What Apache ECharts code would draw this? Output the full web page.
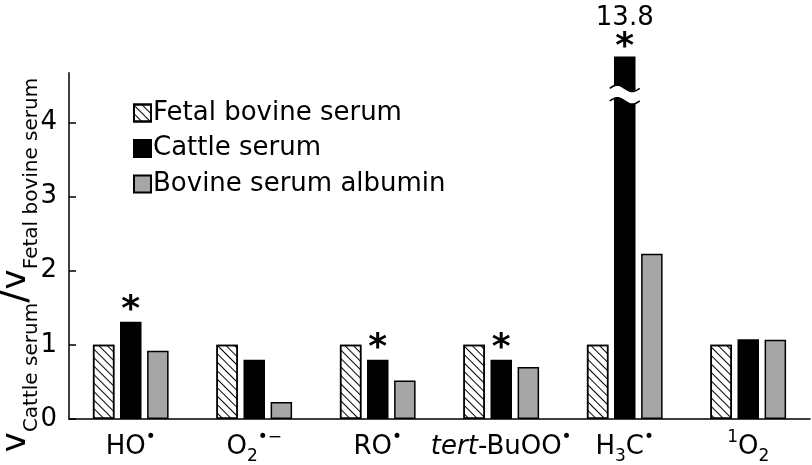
<!DOCTYPE html>
<html>
<head>
<meta charset="utf-8">
<script src="https://cdn.jsdelivr.net/npm/echarts@6/dist/echarts.min.js"></script>
<style>html,body{margin:0;padding:0;background:#fff}#c{width:812px;height:465px}</style>
</head>
<body>
<div id="c"></div>
<script>
// ---- data ----
const categories = ['HO', 'O2', 'RO', 'tert', 'H3C', '1O2'];
const categoryLabels = [
  '{n|HO}{sup|•}',
  '{n|O}{sub|2}{sup|•−}',
  '{n|RO}{sup|•}',
  '{it|tert}{n|-BuOO}{sup|•}',
  '{n|H}{sub|3}{n|C}{sup|•}',
  '{sup|1}{n|O}{sub|2}'
];
const fetalBovineSerum = [1, 1, 1, 1, 1, 1];
const cattleSerum = [1.31, 0.80, 0.80, 0.80, 13.8, 1.075];
const bovineSerumAlbumin = [0.92, 0.23, 0.52, 0.70, 2.23, 1.07];
const cattleSignificant = [true, false, true, true, true, false];
const yTicks = [0, 1, 2, 3, 4];
const yMax = 4.67;
const brokenBarTop = 4.89;        // drawn height of the broken bar
const breakValues = [4.29, 4.46]; // axis-break wave marks on the broken bar

const seriesNames = ['Fetal bovine serum', 'Cattle serum', 'Bovine serum albumin'];

const chart = echarts.init(document.getElementById('c'), null, {renderer: 'canvas'});
const FONT = 'DejaVu Sans';
const rich = {
  n: {fontSize: 26, lineHeight: 36, fontFamily: FONT, color: '#000'},
  it: {fontSize: 26, lineHeight: 36, fontFamily: FONT, fontStyle: 'italic', color: '#000'},
  sub: {fontSize: 17, lineHeight: 17, verticalAlign: 'bottom', fontFamily: FONT, color: '#000'},
  sup: {fontSize: 17, lineHeight: 17, verticalAlign: 'top', fontFamily: FONT, color: '#000'}
};

const cattleData = cattleSerum.map((v, i) => {
  const item = {value: Math.min(v, brokenBarTop)};
  if (cattleSignificant[i]) {
    const broken = v > brokenBarTop;
    item.label = {
      show: true,
      position: 'top',
      distance: broken ? -5 : -3,
      formatter: broken ? '{v|' + v + '}\n{a|*}' : '{a|*}',
      rich: {
        v: {fontSize: 26, fontFamily: FONT, color: '#000', lineHeight: 30},
        a: {fontSize: 36, fontFamily: FONT, color: '#000', lineHeight: 28, fontWeight: 'bold'}
      }
    };
  }
  return item;
});

const border = {borderColor: '#000', borderWidth: 1.5};
const BW = 21.5, GAP = '26%';

chart.setOption({
  animation: false,
  backgroundColor: '#fff',
  grid: {left: 69, right: 2, top: 421 - yMax * 74.57, bottom: 44, containLabel: false},
  legend: {
    orient: 'vertical',
    left: 133,
    top: 100,
    padding: 0,
    itemWidth: 17,
    itemHeight: 17,
    itemGap: 9.5,
    icon: 'rect',
    textStyle: {fontSize: 26, fontFamily: FONT, color: '#000', padding: [0, 0, 0, -3]},
    data: seriesNames
  },
  xAxis: {
    type: 'category',
    data: categories,
    axisLine: {lineStyle: {color: '#000', width: 1.5}},
    axisTick: {inside: true, length: 5, lineStyle: {color: '#000', width: 1.5}},
    axisLabel: {
      interval: 0,
      margin: 10,
      formatter: (val, idx) => categoryLabels[idx],
      rich: rich
    }
  },
  yAxis: {
    type: 'value',
    min: 0,
    max: yMax,
    interval: 1,
    splitLine: {show: false},
    axisLine: {show: true, lineStyle: {color: '#000', width: 1.5}},
    axisTick: {show: true, inside: true, length: 7, lineStyle: {color: '#000', width: 1.5}, customValues: yTicks},
    axisLabel: {fontSize: 26, fontFamily: FONT, color: '#000', margin: 12, customValues: yTicks}
  },
  graphic: [{
    type: 'text',
    x: 16,
    y: 265,
    rotation: Math.PI / 2,
    style: {
      text: '{v|v}{s|Cattle serum}{sl|/}{v|v}{s|Fetal bovine serum}',
      align: 'center',
      verticalAlign: 'middle',
      rich: {
        v: {fontSize: 34, lineHeight: 52, fontFamily: FONT, fill: '#000'},
        sl: {fontSize: 40, lineHeight: 52, fontFamily: FONT, fill: '#000'},
        s: {fontSize: 20, lineHeight: 22, verticalAlign: 'bottom', fontFamily: FONT, fill: '#000'}
      }
    }
  }],
  series: [
    {
      name: seriesNames[0],
      type: 'bar',
      barWidth: BW,
      barGap: GAP,
      data: fetalBovineSerum,
      itemStyle: Object.assign({
        color: '#fff',
        decal: {
          symbol: 'rect',
          symbolSize: 1,
          color: '#000',
          dashArrayX: [[1, 0]],
          dashArrayY: [1, 4.8],
          rotation: Math.PI / 4
        }
      }, border)
    },
    {
      name: seriesNames[1],
      type: 'bar',
      barWidth: BW,
      barGap: GAP,
      clip: false,
      data: cattleData,
      itemStyle: Object.assign({color: '#000'}, border)
    },
    {
      name: seriesNames[2],
      type: 'bar',
      barWidth: BW,
      barGap: GAP,
      data: bovineSerumAlbumin,
      itemStyle: Object.assign({color: '#a6a6a6'}, border)
    },
    {
      type: 'custom',
      clip: false,
      silent: true,
      z: 10,
      data: cattleSerum.map((v, i) => v > brokenBarTop ? [i, breakValues[0], breakValues[1]] : null).filter(d => d),
      renderItem: function (params, api) {
        const lo = api.coord([api.value(0), api.value(1)]);
        const hi = api.coord([api.value(0), api.value(2)]);
        const cx = lo[0];
        const half = 13, ext = 15, A = 3.2, N = 24;
        function wave(yc, w) {
          const pts = [];
          for (let k = 0; k <= N; k++) {
            const t = k / N;
            pts.push([cx - w + 2 * w * t, yc - A * Math.sin(2 * Math.PI * t)]);
          }
          return pts;
        }
        const topW = wave(hi[1], half);
        const botW = wave(lo[1], half).reverse();
        return {
          type: 'group',
          children: [
            {type: 'polygon', shape: {points: topW.concat(botW)}, style: {fill: '#fff', stroke: null}},
            {type: 'polyline', shape: {points: wave(hi[1], ext)}, style: {stroke: '#000', lineWidth: 1.6, fill: null}},
            {type: 'polyline', shape: {points: wave(lo[1], ext)}, style: {stroke: '#000', lineWidth: 1.6, fill: null}}
          ]
        };
      }
    }
  ]
});
</script>
</body>
</html>
